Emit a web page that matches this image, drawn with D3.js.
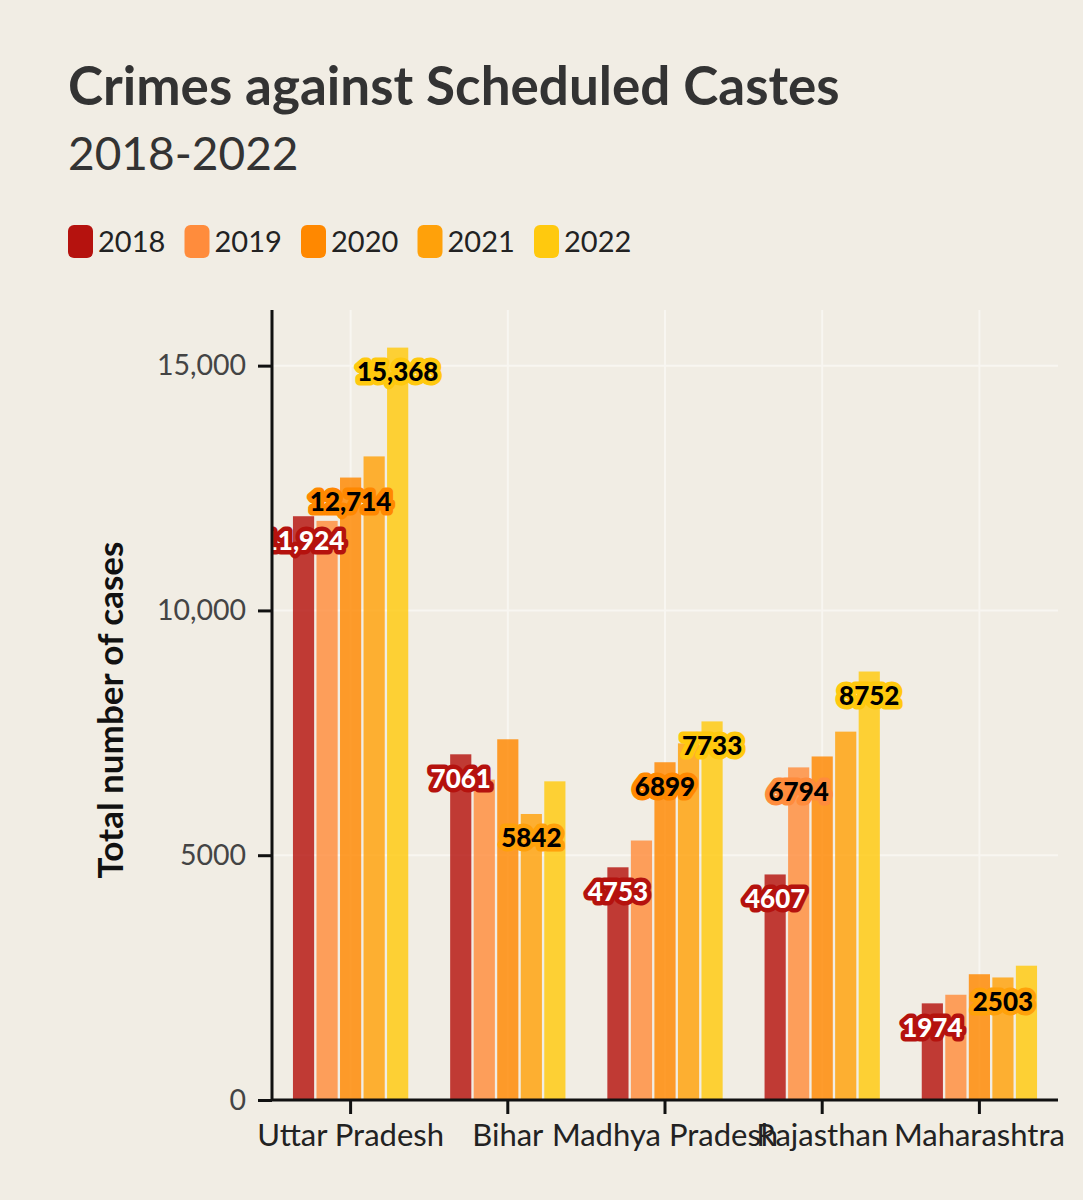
<!DOCTYPE html>
<html>
<head>
<meta charset="utf-8">
<script src="https://cdn.jsdelivr.net/npm/d3@7"></script>
<style>
  body { margin: 0; background: #F1EDE4; }
  text { font-family: Lato, "Noto Sans", sans-serif; }
</style>
</head>
<body>
<div id="chart-area"></div>
<script>
const states = ["Uttar Pradesh", "Bihar", "Madhya Pradesh", "Rajasthan", "Maharashtra"];
const years = ["2018", "2019", "2020", "2021", "2022"];
const colors = ["#B5120E", "#FF8C3C", "#FF8800", "#FFA10A", "#FFC90E"];

const cases2018 = [11924, 7061, 4753, 4607, 1974];
const cases2019 = [11829, 6544, 5300, 6794, 2150];
const cases2020 = [12714, 7368, 6899, 7017, 2569];
const cases2021 = [13146, 5842, 7285, 7524, 2503];
const cases2022 = [15368, 6509, 7733, 8752, 2743];

// which bars carry a value label
const labelled = [
    ["2018", "2020", "2022"],
    ["2018", "2021"],
    ["2018", "2020", "2022"],
    ["2018", "2019", "2022"],
    ["2018", "2021"]
];

const yTicks = [0, 5000, 10000, 15000];

const series = [cases2018, cases2019, cases2020, cases2021, cases2022];
const data = [];
states.forEach((s, i) => {
    years.forEach((yr, j) => {
        data.push({ state: s, year: yr, value: series[j][i], label: labelled[i].includes(yr) });
    });
});

const fmt = v => v >= 10000 ? d3.format(",")(v) : String(v);

const svg = d3.select("#chart-area").append("svg")
    .attr("width", 1083)
    .attr("height", 1200);

svg.append("rect").attr("width", 1083).attr("height", 1200).attr("fill", "#F1EDE4");

// titles
svg.append("text").attr("x", 68).attr("y", 105)
    .attr("font-size", 53).attr("font-weight", 700).attr("fill", "#333")
    .text("Crimes against Scheduled Castes");
svg.append("text").attr("x", 68).attr("y", 170)
    .attr("font-size", 46).attr("fill", "#333")
    .text("2018-2022");

// legend
const legend = svg.append("g").selectAll("g")
    .data(years).enter().append("g")
    .attr("transform", (d, i) => `translate(${68 + i * 116.5}, 225)`);
legend.append("rect")
    .attr("width", 25).attr("height", 33).attr("rx", 6)
    .attr("fill", (d, i) => colors[i]);
legend.append("text")
    .attr("x", 30).attr("y", 27)
    .attr("font-size", 29).attr("fill", "#222")
    .text(d => d);

const left = 272, right = 1058, bottom = 1100;

const x = d3.scaleBand().domain(states).range([left, right]);
const y = d3.scaleLinear().domain([0, d3.max(data, d => d.value) * 1.05]).range([bottom, 310]);
const xSub = d3.scaleBand().domain(years).range([-60, 60]).padding(0.1);
const color = d3.scaleOrdinal().domain(years).range(colors);

// grid
const grid = svg.append("g");
grid.selectAll("line.h").data(yTicks.slice(1)).enter().append("line")
    .attr("x1", left).attr("x2", right)
    .attr("y1", d => y(d)).attr("y2", d => y(d))
    .attr("stroke", "#F8F6F1").attr("stroke-width", 2);
grid.selectAll("line.v").data(states).enter().append("line")
    .attr("x1", d => x(d) + x.bandwidth() / 2).attr("x2", d => x(d) + x.bandwidth() / 2)
    .attr("y1", y.range()[1]).attr("y2", bottom)
    .attr("stroke", "#F8F6F1").attr("stroke-width", 2);

svg.append("clipPath").attr("id", "panel")
    .append("rect").attr("x", left).attr("y", 300).attr("width", right - left).attr("height", bottom - 300);

const panel = svg.append("g").attr("clip-path", "url(#panel)");

panel.selectAll("rect.bar")
    .data(data).enter()
    .append("rect")
        .attr("class", "bar")
        .attr("x", d => x(d.state) + x.bandwidth() / 2 + xSub(d.year))
        .attr("y", d => y(d.value))
        .attr("width", xSub.bandwidth())
        .attr("height", d => bottom - y(d.value))
        .attr("fill", d => color(d.year))
        .attr("fill-opacity", 0.82);

const labels = data.filter(d => d.label);
panel.selectAll("text.lab")
    .data(labels).enter()
    .append("text")
        .attr("class", "lab")
        .attr("x", d => x(d.state) + x.bandwidth() / 2 + xSub(d.year) + xSub.bandwidth() / 2)
        .attr("y", d => y(d.value) + 24)
        .attr("dy", "0.36em")
        .attr("text-anchor", "middle")
        .attr("font-size", 26).attr("font-weight", 900)
        .attr("fill", d => d.year === "2018" ? "#fff" : "#000")
        .attr("stroke", d => color(d.year))
        .attr("stroke-width", 9)
        .attr("stroke-linejoin", "round")
        .attr("paint-order", "stroke")
        .text(d => fmt(d.value));

// axes
const yAxis = svg.append("g")
    .attr("transform", `translate(${left},0)`)
    .call(d3.axisLeft(y).tickValues(yTicks).tickFormat(fmt).tickSize(14).tickPadding(12));
yAxis.select(".domain").attr("d", `M0,${y.range()[1]}V${bottom}`).attr("stroke", "#111").attr("stroke-width", 3);
yAxis.selectAll(".tick line").attr("stroke", "#111").attr("stroke-width", 3);
yAxis.selectAll(".tick text").attr("font-size", 28.5).attr("fill", "#444").style("font-family", "Lato, sans-serif");

const xAxis = svg.append("g")
    .attr("transform", `translate(0,${bottom})`)
    .call(d3.axisBottom(x).tickSize(14).tickPadding(10));
xAxis.select(".domain").attr("d", `M${left},0H${right}`).attr("stroke", "#111").attr("stroke-width", 3);
xAxis.selectAll(".tick line").attr("stroke", "#111").attr("stroke-width", 3);
xAxis.selectAll(".tick text").attr("font-size", 31).attr("fill", "#222").style("font-family", "Lato, sans-serif");

svg.append("text")
    .attr("transform", "translate(123,710) rotate(-90)")
    .attr("text-anchor", "middle")
    .attr("font-size", 35).attr("font-weight", 700).attr("fill", "#111")
    .text("Total number of cases");
</script>
</body>
</html>
